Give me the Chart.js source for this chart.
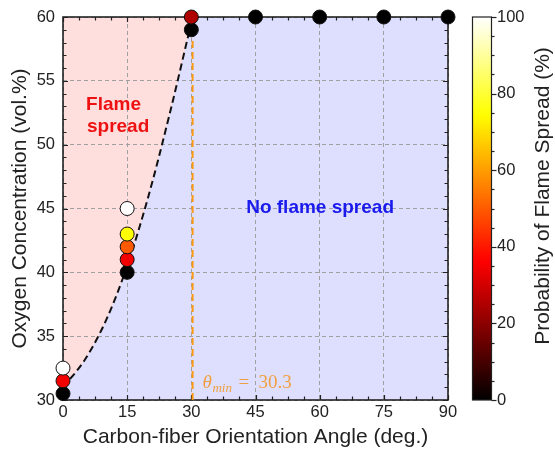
<!DOCTYPE html>
<html><head><meta charset="utf-8">
<script src="https://cdn.jsdelivr.net/npm/chart.js@4.4.1/dist/chart.umd.min.js"></script>
<style>html,body{margin:0;padding:0;background:#fff}canvas{display:block}</style>
</head><body>
<canvas id="c" width="555" height="450"></canvas>
<script>
// ---- data ----
const angles   = [0, 0, 0, 15, 15, 15, 15, 15, 30, 30, 45, 60, 75, 90];
const oxygen   = [30.5, 31.5, 32.5, 40, 41, 42, 43, 45, 59, 60, 60, 60, 60, 60];
const probability = [0, 35, 100, 0, 35, 50, 75, 100, 0, 25, 0, 0, 0, 0];
const boundaryAngle = [0, 5, 10, 15, 20, 25, 30.3];
const boundaryO2    = [31, 33.1, 36.2, 40.5, 46.0, 52.5, 60];
const thetaMin = 30.3;
const xTicks = [0, 15, 30, 45, 60, 75, 90];
const yTicks = [30, 35, 40, 45, 50, 55, 60];
const cbTicks = [0, 20, 40, 60, 80, 100];

const clamp = v => Math.max(0, Math.min(1, v));
function hot(p){
  const t = p / 100;
  const r = clamp(t / 0.365), g = clamp((t - 0.365) / 0.381), b = clamp((t - 0.746) / 0.254);
  return `rgb(${Math.round(r*255)},${Math.round(g*255)},${Math.round(b*255)})`;
}

const SANS = '"Liberation Sans", Arial, sans-serif';
const SERIF = '"Liberation Serif", "Times New Roman", serif';

const points = angles.map((a, i) => ({x: a, y: oxygen[i]}));
const boundary = boundaryAngle.map((a, i) => ({x: a, y: boundaryO2[i]}));
const xMin = xTicks[0], xMax = xTicks[xTicks.length-1];
const yMin = yTicks[0], yMax = yTicks[yTicks.length-1];

const deco = {
  id: 'deco',
  beforeDatasetsDraw(chart){
    const {ctx, chartArea: a, scales} = chart;
    const xs = scales.x, ys = scales.y;
    ctx.save();
    ctx.strokeStyle = '#222';
    ctx.lineWidth = 1.2;
    // inward ticks
    for (let v = xMin; v <= xMax + 1e-6; v += 3.75){
      const major = Math.abs(v/15 - Math.round(v/15)) < 1e-6;
      const L = major ? 5 : 3.5;
      const px = Math.round(xs.getPixelForValue(v)) + 0.5;
      ctx.beginPath();
      ctx.moveTo(px, a.bottom); ctx.lineTo(px, a.bottom - L);
      ctx.moveTo(px, a.top); ctx.lineTo(px, a.top + L);
      ctx.stroke();
    }
    for (let v = yMin; v <= yMax + 1e-6; v += 1){
      const major = v % 5 === 0;
      const L = major ? 5 : 3.5;
      const py = Math.round(ys.getPixelForValue(v)) + 0.5;
      ctx.beginPath();
      ctx.moveTo(a.left, py); ctx.lineTo(a.left + L, py);
      ctx.moveTo(a.right, py); ctx.lineTo(a.right - L, py);
      ctx.stroke();
    }
    ctx.lineWidth = 1.6;
    ctx.strokeRect(a.left, a.top, a.right - a.left, a.bottom - a.top);
    // region labels
    ctx.font = 'bold 19px ' + SANS;
    ctx.fillStyle = '#ee1111';
    ctx.textAlign = 'left';
    ctx.textBaseline = 'alphabetic';
    ctx.fillText('Flame', xs.getPixelForValue(5.4), ys.getPixelForValue(52.7));
    ctx.fillText('spread', xs.getPixelForValue(5.6), ys.getPixelForValue(51.0));
    ctx.fillStyle = '#1a1aee';
    ctx.textAlign = 'center';
    ctx.fillText('No flame spread', xs.getPixelForValue(60.1), ys.getPixelForValue(44.65));
    // theta label
    ctx.fillStyle = '#f0a040';
    ctx.textAlign = 'left';
    const tx = xs.getPixelForValue(32.6), ty = ys.getPixelForValue(30.95);
    ctx.font = 'italic 19px ' + SERIF;
    ctx.fillText('θ', tx, ty);
    ctx.font = 'italic 13px ' + SERIF;
    ctx.fillText('min', tx + 10, ty + 4);
    ctx.font = '19px ' + SERIF;
    ctx.fillText('=', tx + 36, ty);
    ctx.fillText(String(thetaMin), tx + 56, ty);
    ctx.restore();
  },
  afterDraw(chart){
    const {ctx, scales} = chart;
    const cb = scales.cb;
    const x0 = 472, x1 = 491;
    const yTop = cb.getPixelForValue(100), yBot = cb.getPixelForValue(0);
    ctx.save();
    const g = ctx.createLinearGradient(0, yBot, 0, yTop);
    for (let p = 0; p <= 100; p += 2) g.addColorStop(p/100, hot(p));
    ctx.fillStyle = g;
    ctx.fillRect(x0, yTop, x1 - x0, yBot - yTop);
    ctx.strokeStyle = '#222';
    ctx.lineWidth = 1.2;
    ctx.strokeRect(x0 + 0.5, yTop, x1 - x0, yBot - yTop);
    for (let p = 0; p <= 100; p += 5){
      const L = p % 20 === 0 ? 5 : 3;
      const py = Math.round(cb.getPixelForValue(p)) + 0.5;
      ctx.beginPath(); ctx.moveTo(x1 + 0.5, py); ctx.lineTo(x1 + 0.5 + L, py); ctx.stroke();
    }
    // colorbar title
    ctx.fillStyle = '#222';
    ctx.font = '21px ' + SANS;
    ctx.textAlign = 'center';
    ctx.textBaseline = 'middle';
    ctx.translate(543, 196);
    ctx.rotate(-Math.PI/2);
    ctx.fillText('Probability of Flame Spread (%)', 0, 0);
    ctx.restore();
  }
};

new Chart(document.getElementById('c'), {
  type: 'line',
  data: {
    datasets: [
      {
        type: 'scatter',
        data: points,
        pointRadius: 7,
        pointHoverRadius: 7,
        pointBackgroundColor: probability.map(hot),
        pointBorderColor: '#111',
        pointBorderWidth: 1,
        showLine: false,
        clip: false,
        order: 0
      },
      {
        data: [{x: thetaMin, y: yMin}, {x: thetaMin, y: yMax}],
        borderColor: '#ff9910',
        borderWidth: 2,
        borderDash: [7, 4],
        pointRadius: 0,
        fill: false,
        order: 1
      },
      {
        data: boundary,
        borderColor: '#111',
        borderWidth: 2,
        borderDash: [7, 4],
        pointRadius: 0,
        cubicInterpolationMode: 'monotone',
        fill: 'end',
        backgroundColor: 'rgb(255,222,222)',
        order: 2
      },
      {
        data: [{x: xMin, y: yMax}, {x: xMax, y: yMax}],
        borderWidth: 0,
        borderColor: 'rgba(0,0,0,0)',
        pointRadius: 0,
        fill: 'start',
        backgroundColor: 'rgb(222,222,255)',
        order: 3
      }
    ]
  },
  options: {
    responsive: false,
    animation: false,
    events: [],
    layout: {autoPadding: false, padding: {top: 17, right: 0, bottom: 0, left: 0}},
    plugins: {
      legend: {display: false},
      tooltip: {enabled: false},
      filler: {drawTime: 'beforeDraw'}
    },
    scales: {
      x: {
        type: 'linear', position: 'bottom', min: xMin, max: xMax,
        afterBuildTicks: s => { s.ticks = xTicks.map(v => ({value: v})); },
        afterFit: s => { s.height = 50; s.paddingLeft = 0; s.paddingRight = 0; },
        grid: {color: '#a0a0a0', lineWidth: 1, drawTicks: false},
        border: {display: false, dash: [4, 3]},
        ticks: {color: '#222', font: {family: SANS, size: 16.5}, padding: 3, maxRotation: 0},
        title: {display: true, text: 'Carbon-fiber Orientation Angle (deg.)', color: '#222',
                font: {family: SANS, size: 21}, padding: {top: 0, bottom: 0}}
      },
      y: {
        type: 'linear', position: 'left', min: yMin, max: yMax,
        afterBuildTicks: s => { s.ticks = yTicks.map(v => ({value: v})); },
        afterFit: s => { s.width = 63; s.paddingTop = 0; s.paddingBottom = 0; },
        grid: {color: '#a0a0a0', lineWidth: 1, drawTicks: false},
        border: {display: false, dash: [4, 3]},
        ticks: {color: '#222', font: {family: SANS, size: 16.5}, padding: 8},
        title: {display: true, text: 'Oxygen Concentration (vol.%)', color: '#222',
                font: {family: SANS, size: 21}, padding: {top: 8, bottom: 0}}
      },
      cb: {
        type: 'linear', position: 'right', min: 0, max: 100,
        afterBuildTicks: s => { s.ticks = cbTicks.map(v => ({value: v})); },
        afterFit: s => { s.width = 107; s.paddingTop = 0; s.paddingBottom = 0; },
        grid: {display: false, drawTicks: false},
        border: {display: false},
        ticks: {color: '#222', font: {family: SANS, size: 16.5}, padding: 49}
      }
    }
  },
  plugins: [deco]
});
</script>
</body></html>
